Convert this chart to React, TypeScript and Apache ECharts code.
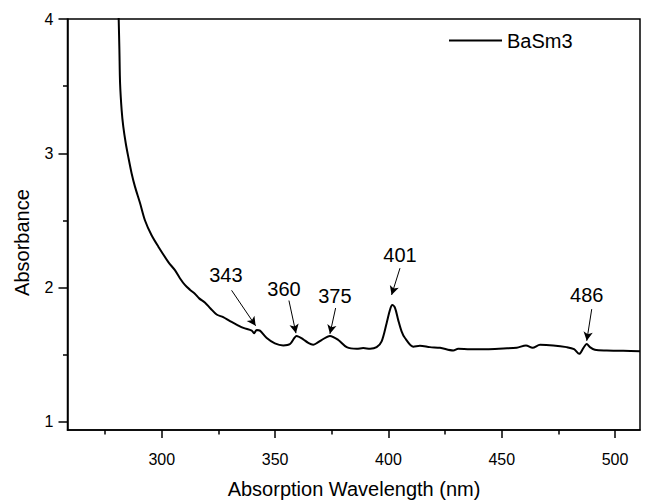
import React, { useEffect, useRef } from "react";
import * as echarts from "echarts";

const seriesName = "BaSm3";
const xTitle = "Absorption Wavelength (nm)";
const yTitle = "Absorbance";

const wavelengths = [
  280.7, 281.0, 281.3, 281.6, 282.3, 283.0, 284.1, 285.2, 286.7, 288.2, 290.4, 292.6, 295.5, 298.5,
  302.9, 305.8, 308.0, 310.2, 312.4, 314.6, 316.5, 319.0, 321.5, 324.2, 327.1, 330.1, 333.0, 336.0,
  339.7, 340.7, 341.9, 343.3, 346.3, 349.9, 353.6, 356.6, 359.5, 362.4, 364.5, 366.8, 368.7, 370.5,
  374.2, 377.9, 381.6, 386.0, 388.9, 391.9, 394.8, 397.0, 399.2, 400.7, 401.7, 402.9, 404.3, 405.8,
  407.3, 411.0, 413.9, 418.3, 422.8, 428.6, 430.8, 436.0, 443.3, 450.7, 456.6, 460.7, 463.6, 466.9,
  472.7, 478.6, 481.9, 484.2, 486.0, 487.5, 488.9, 491.1, 496.3, 503.6, 511.0,
];
const absorbance = [
  4.2, 3.99, 3.77, 3.52, 3.32, 3.2, 3.075, 2.975, 2.85, 2.75, 2.63, 2.5, 2.39, 2.305,
  2.19, 2.13, 2.07, 2.02, 1.985, 1.955, 1.92, 1.89, 1.845, 1.8, 1.78, 1.75, 1.725, 1.7,
  1.68, 1.66, 1.685, 1.68, 1.625, 1.585, 1.57, 1.58, 1.64, 1.615, 1.59, 1.575, 1.59, 1.61,
  1.64, 1.61, 1.557, 1.545, 1.55, 1.545, 1.557, 1.6, 1.735, 1.835, 1.87, 1.85, 1.76, 1.675,
  1.625, 1.56, 1.567, 1.557, 1.552, 1.532, 1.545, 1.542, 1.542, 1.547, 1.552, 1.57, 1.552, 1.575,
  1.57, 1.557, 1.542, 1.507, 1.55, 1.58, 1.557, 1.537, 1.532, 1.53, 1.527,
];

// peak annotations: label text, label anchor, arrow start, arrow tip (data coords)
const peakLabels = ["343", "360", "375", "401", "486"];
const labelAnchors = [
  [328.3, 2.095],
  [353.9, 1.99],
  [376.4, 1.94],
  [405.1, 2.244],
  [487.5, 1.946],
];
const arrowStarts = [
  [330.8, 1.98],
  [356.1, 1.904],
  [376.7, 1.848],
  [405.1, 2.145],
  [489.7, 1.84],
];
const arrowTips = [
  [341.4, 1.716],
  [359.2, 1.661],
  [374.2, 1.656],
  [401.4, 1.946],
  [487.5, 1.604],
];

const xMajor = [300, 350, 400, 450, 500];
const xMinor = [275, 325, 375, 425, 475];
const yMajor = [1, 2, 3, 4];
const yMinor = [1.5, 2.5, 3.5];

const X_MIN = 258.4;
const X_MAX = 511;
const Y_MIN = 0.94;
const Y_MAX = 4;

const FONT = "'Liberation Sans', Arial, Helvetica, sans-serif";

export default function App() {
  const ref = useRef<HTMLDivElement>(null);

  useEffect(() => {
    if (!ref.current) return;
    const chart = echarts.init(ref.current, undefined, { renderer: "svg" });
    const data = wavelengths.map((w, i) => [w, absorbance[i]]);

    const option: any = {
      animation: false,
      backgroundColor: "#fff",
      textStyle: { fontFamily: FONT, color: "#000" },
      grid: {
        left: 67.5,
        top: 19,
        right: 6,
        bottom: 72,
        show: true,
        borderColor: "#000",
        borderWidth: 1.5,
        backgroundColor: "transparent",
      },
      legend: {
        data: [{ name: seriesName, icon: "rect" }],
        left: 449,
        top: 30.5,
        padding: 0,
        itemWidth: 53,
        itemHeight: 2,
        itemStyle: { color: "#000" },
        textStyle: { fontFamily: FONT, fontSize: 20, color: "#000", padding: [0, 0, 0, 0] },
      },
      xAxis: [
        {
          type: "value",
          min: X_MIN,
          max: X_MAX,
          axisLine: { show: true, onZero: false, lineStyle: { color: "#000", width: 1.5 } },
          axisTick: {
            show: true,
            inside: false,
            length: 8,
            customValues: xMajor,
            lineStyle: { color: "#000", width: 1.5 },
          },
          axisLabel: {
            show: true,
            customValues: xMajor,
            margin: 21,
            fontSize: 16,
            fontFamily: FONT,
            color: "#000",
          },
          splitLine: { show: false },
        },
        {
          type: "value",
          position: "bottom",
          min: X_MIN,
          max: X_MAX,
          axisLine: { show: false, onZero: false },
          axisTick: {
            show: true,
            inside: false,
            length: 4.5,
            customValues: xMinor,
            lineStyle: { color: "#000", width: 1.5 },
          },
          axisLabel: { show: false },
          splitLine: { show: false },
        },
      ],
      yAxis: [
        {
          type: "value",
          min: Y_MIN,
          max: Y_MAX,
          axisLine: { show: true, onZero: false, lineStyle: { color: "#000", width: 1.5 } },
          axisTick: {
            show: true,
            inside: false,
            length: 9,
            customValues: yMajor,
            lineStyle: { color: "#000", width: 1.5 },
          },
          axisLabel: {
            show: true,
            customValues: yMajor,
            margin: 14,
            fontSize: 16,
            fontFamily: FONT,
            color: "#000",
          },
          splitLine: { show: false },
        },
        {
          type: "value",
          position: "left",
          min: Y_MIN,
          max: Y_MAX,
          axisLine: { show: false, onZero: false },
          axisTick: {
            show: true,
            inside: false,
            length: 4.5,
            customValues: yMinor,
            lineStyle: { color: "#000", width: 1.5 },
          },
          axisLabel: { show: false },
          splitLine: { show: false },
        },
      ],
      series: [
        {
          name: seriesName,
          type: "line",
          data,
          xAxisIndex: 0,
          yAxisIndex: 0,
          symbol: "none",
          showSymbol: false,
          smooth: 0.3,
          clip: true,
          lineStyle: { color: "#000", width: 2 },
          itemStyle: { color: "#000" },
          markLine: {
            silent: true,
            symbol: ["none", "arrow"],
            symbolSize: [7, 9],
            label: { show: false },
            lineStyle: { color: "#000", width: 1, type: "solid" },
            emphasis: { disabled: true },
            data: arrowStarts.map((s, i) => [{ coord: s }, { coord: arrowTips[i] }]),
          },
          markPoint: {
            silent: true,
            symbol: "circle",
            symbolSize: 1,
            itemStyle: { color: "rgba(0,0,0,0)" },
            label: {
              show: true,
              position: "inside",
              formatter: (p: any) => p.name,
              fontSize: 20,
              fontFamily: FONT,
              color: "#000",
            },
            data: peakLabels.map((t, i) => ({ name: t, coord: labelAnchors[i] })),
          },
        },
      ],
      graphic: [
        {
          type: "text",
          x: 22,
          y: 242.5,
          rotation: Math.PI / 2,
          style: {
            text: yTitle,
            font: `20px ${FONT}`,
            fill: "#000",
            textAlign: "center",
            textVerticalAlign: "middle",
          },
        },
        {
          type: "text",
          x: 354,
          y: 489,
          style: {
            text: xTitle,
            font: `20px ${FONT}`,
            fill: "#000",
            textAlign: "center",
            textVerticalAlign: "middle",
          },
        },
      ],
    };
    chart.setOption(option);
    return () => chart.dispose();
  }, []);

  return (
    <div
      ref={ref}
      style={{ position: "fixed", left: 0, top: 0, width: 646, height: 502, background: "#fff" }}
    />
  );
}
